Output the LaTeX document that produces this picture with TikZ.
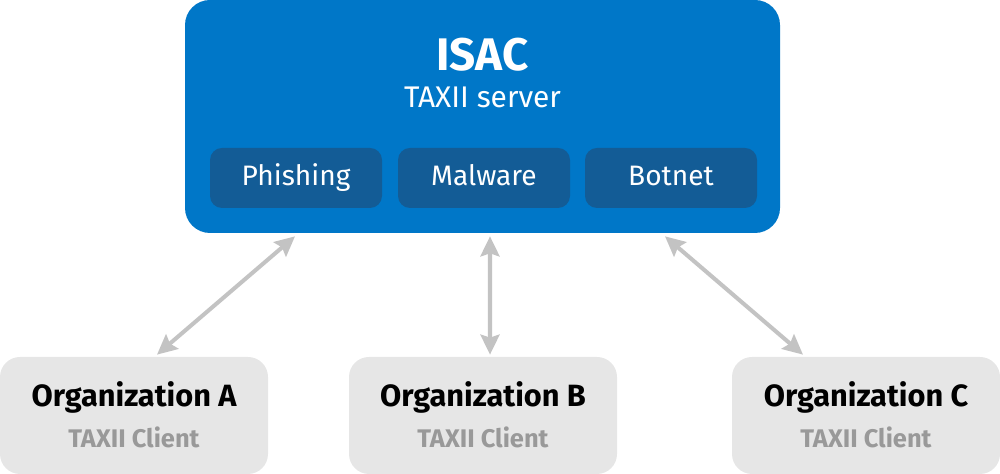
\documentclass[tikz,border=0pt]{standalone}
\usepackage{fontspec}
\setmainfont{Fira Sans}
\usetikzlibrary{arrows.meta}
\definecolor{isacblue}{HTML}{0077C8}
\definecolor{feedblue}{HTML}{135C96}
\definecolor{orggray}{HTML}{E6E6E6}
\definecolor{linkgray}{HTML}{C3C3C3}
\definecolor{clientgray}{HTML}{999999}
\tikzset{
  server/.style={fill=isacblue, rounded corners=0.5cm, minimum width=11.9cm, minimum height=4.66cm},
  feed/.style={fill=feedblue, rounded corners=0.24cm, minimum width=3.44cm, minimum height=1.2cm,
    text=white, text height=2ex, text depth=0.45ex, font=\fontsize{16}{18}\selectfont},
  org/.style={fill=orggray, rounded corners=0.4cm, minimum width=5.36cm, minimum height=2.34cm},
  orgname/.style={font=\fontsize{17.5}{20}\selectfont\bfseries},
  client/.style={text=clientgray, font=\fontsize{14.5}{17}\selectfont\bfseries},
  link/.style={linkgray, line width=2.3pt, {Stealth[length=0.4cm,width=0.38cm,inset=0.06cm]}-{Stealth[length=0.4cm,width=0.38cm,inset=0.06cm]}}
}
\begin{document}
\begin{tikzpicture}
    \useasboundingbox (0,0) rectangle (20,9.48);
    % Server
    \node[server] (isac) at (9.65,7.15) {};
    \node[text=white, font=\fontsize{26}{30}\selectfont\bfseries] (isactitle) at (9.65,8.38) {ISAC};
    \node[text=white, font=\fontsize{17}{20}\selectfont] (isacsub) at (9.65,7.54) {TAXII server};
    \node[feed] (phishing) at (5.92,5.92) {Phishing};
    \node[feed] (malware) at (9.68,5.92) {Malware};
    \node[feed] (botnet) at (13.42,5.92) {Botnet};
    % Clients
    \node[org] (orgA) at (2.68,1.17) {};
    \node[org] (orgB) at (9.66,1.17) {};
    \node[org] (orgC) at (17.32,1.17) {};
    \node[orgname] (nameA) at (2.68,1.54) {Organization A};
    \node[orgname] (nameB) at (9.66,1.54) {Organization B};
    \node[orgname] (nameC) at (17.32,1.54) {Organization C};
    \node[client] (clientA) at (2.68,0.74) {TAXII Client};
    \node[client] (clientB) at (9.66,0.74) {TAXII Client};
    \node[client] (clientC) at (17.32,0.74) {TAXII Client};
    % Links
    \draw[link] ([xshift=0.46cm,yshift=0.04cm]orgA.north) -- ([xshift=-3.75cm,yshift=-0.06cm]isac.south);
    \draw[link] ([xshift=0.14cm,yshift=0.04cm]orgB.north) -- ([xshift=0.15cm,yshift=-0.06cm]isac.south);
    \draw[link] ([xshift=-1.26cm,yshift=0.04cm]orgC.north) -- ([xshift=3.65cm,yshift=-0.06cm]isac.south);
\end{tikzpicture}
\end{document}
